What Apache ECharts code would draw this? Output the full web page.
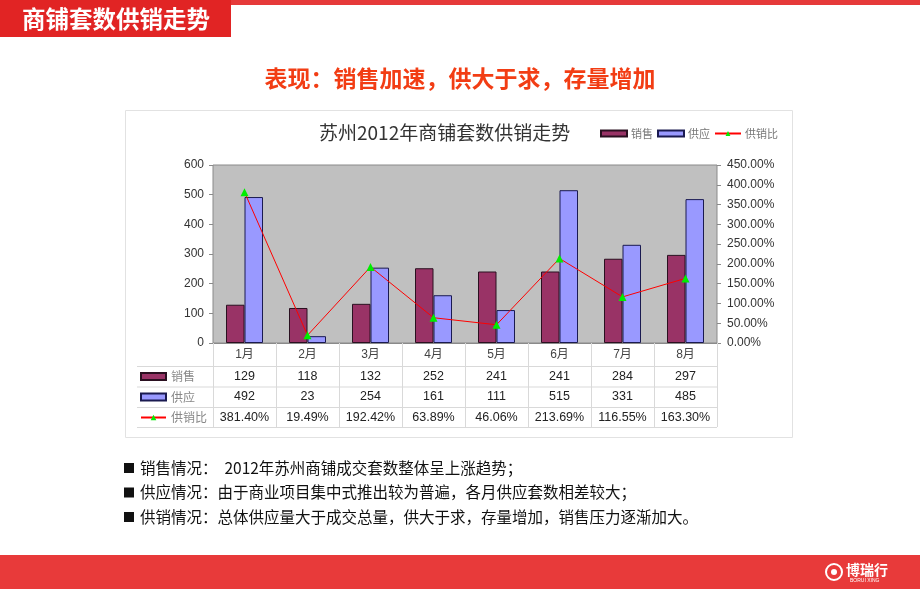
<!DOCTYPE html>
<html><head><meta charset="utf-8">
<script src="https://cdn.jsdelivr.net/npm/echarts@6/dist/echarts.min.js"></script>
<style>html,body{margin:0;padding:0;background:#fff}#c{width:920px;height:589px}</style>
</head><body><div id="c"></div>
<script>
const months = ['1月','2月','3月','4月','5月','6月','7月','8月'];
const sales = [129,118,132,252,241,241,284,297];
const supply = [492,23,254,161,111,515,331,485];
const ratio = [381.40,19.49,192.42,63.89,46.06,213.69,116.55,163.30];
const leftTicks = {min:0,max:600,interval:100};
const rightTicks = {min:0,max:450,interval:50};
const seriesNames = ['销售','供应','供销比'];
const pageTitle = '商铺套数供销走势';
const headline = '表现：销售加速，供大于求，存量增加';
const chartTitle = '苏州2012年商铺套数供销走势';
const bullets = [
  '销售情况：  2012年苏州商铺成交套数整体呈上涨趋势；',
  '供应情况：由于商业项目集中式推出较为普遍，各月供应套数相差较大；',
  '供销情况：总体供应量大于成交总量，供大于求，存量增加，销售压力逐渐加大。'
];

const FONT = '"Liberation Sans","Noto Sans CJK SC",sans-serif';
const CJK = '"Noto Sans CJK SC","Liberation Sans",sans-serif';
const chart = echarts.init(document.getElementById('c'));

const gL = 213, gR = 717, gT = 165, gB = 343;
function txt(text, x, y, size, color, weight, align, family){
  return {type:'text', silent:true, style:{text, x, y, fill:color,
    font:(weight||'normal')+' '+size+'px '+(family||CJK),
    textAlign:align||'left', textVerticalAlign:'middle', align:align||'left', verticalAlign:'middle'}};
}
const graphics = [
  {type:'rect', shape:{x:0,y:0,width:920,height:5}, style:{fill:'#e63a3a'}, silent:true},
  {type:'rect', shape:{x:0,y:0,width:231,height:37}, style:{fill:'#e12424'}, silent:true},
  txt(pageTitle, 22, 19, 23.5, '#ffffff', 'bold'),
  txt(headline, 460, 78, 23, '#f23d14', 'bold', 'center'),
  {type:'rect', shape:{x:125.5,y:110.5,width:667,height:327}, style:{fill:'none', stroke:'#e2e2e2', lineWidth:1}, silent:true, z:-1},
  {type:'rect', shape:{x:0,y:555,width:920,height:34}, style:{fill:'#e83a3a'}, silent:true},
  {type:'circle', shape:{cx:834,cy:572,r:8}, style:{fill:'none', stroke:'#fff', lineWidth:2}, silent:true},
  {type:'circle', shape:{cx:834,cy:572,r:3}, style:{fill:'#fff'}, silent:true},
  txt('博瑞行', 846, 570, 14, '#ffffff', 'bold'),
  txt('BORUI XING', 850, 581, 5, '#ffffff', 'normal', 'left', FONT)
];
[366, 386.5, 407, 427].forEach(y => {
  graphics.push({type:'line', silent:true, shape:{x1:137,y1:y+0.5,x2:gR,y2:y+0.5}, style:{stroke:'#d9d9d9', lineWidth:1}});
});
const bulletY = [468, 492.5, 517];
bullets.forEach((b,i) => {
  graphics.push({type:'rect', silent:true, shape:{x:124,y:bulletY[i]-5,width:10,height:10}, style:{fill:'#111'}});
  graphics.push(txt(b, 140, bulletY[i], 15.5, '#111', 'normal'));
});
const legendData = [{name:seriesNames[0], icon:'rect'}, {name:seriesNames[1], icon:'rect'}, seriesNames[2]];

const option = {
  animation:false,
  backgroundColor:'#fff',
  textStyle:{fontFamily:FONT},
  title:{text:chartTitle, left:319, top:123, padding:0,
    textStyle:{fontFamily:CJK, fontSize:19, fontWeight:'normal', color:'#333'}},
  legend:[
    {left:600, top:128, padding:0, itemWidth:26, itemHeight:6, itemGap:4, selectedMode:false,
     data:legendData, textStyle:{fontFamily:CJK, fontSize:11, color:'#777', padding:[0,0,0,-1]}},
    {left:140, top:370.5, orient:'vertical', padding:0, itemWidth:25, itemHeight:7, itemGap:8.5, selectedMode:false,
     data:legendData, textStyle:{fontFamily:CJK, fontSize:12, color:'#888'}}
  ],
  grid:{left:gL, right:920-gR, top:gT, bottom:589-gB, show:true, backgroundColor:'#c0c0c0', borderColor:'#8a8a8a', borderWidth:1},
  xAxis:{type:'category', data:months, boundaryGap:true,
    axisLine:{show:true, lineStyle:{color:'#8a8a8a'}},
    axisTick:{show:true, length:84, lineStyle:{color:'#d9d9d9'}},
    axisLabel:{margin:0, interval:0,
      formatter:(v, i) => '{m|'+v+'}\n{v|'+sales[i]+'}\n{v|'+supply[i]+'}\n{v|'+ratio[i].toFixed(2)+'%}',
      rich:{m:{fontSize:12, color:'#444', lineHeight:23, fontFamily:FONT},
            v:{fontSize:12.5, color:'#222', lineHeight:20.5, fontFamily:FONT}}}
  },
  yAxis:[
    {type:'value', min:leftTicks.min, max:leftTicks.max, interval:leftTicks.interval,
     axisLine:{show:false}, axisTick:{show:true, length:4, lineStyle:{color:'#8a8a8a'}},
     splitLine:{show:false},
     axisLabel:{margin:9, fontSize:12, color:'#333', fontFamily:FONT}},
    {type:'value', min:rightTicks.min, max:rightTicks.max, interval:rightTicks.interval, position:'right',
     axisLine:{show:false}, axisTick:{show:true, length:4, lineStyle:{color:'#8a8a8a'}},
     splitLine:{show:false},
     axisLabel:{margin:10, fontSize:12, color:'#333', fontFamily:FONT, formatter:v => v.toFixed(2)+'%'}}
  ],
  series:[
    {name:seriesNames[0], type:'bar', data:sales, barWidth:18.5, barGap:'0%',
     itemStyle:{color:'#993366', borderColor:'#2a1020', borderWidth:1}},
    {name:seriesNames[1], type:'bar', data:supply, barWidth:18.5, barGap:'0%',
     itemStyle:{color:'#9999ff', borderColor:'#1a1a50', borderWidth:1}},
    {name:seriesNames[2], type:'line', yAxisIndex:1, data:ratio, symbol:'triangle', symbolSize:8,
     lineStyle:{color:'#ff0000', width:1}, itemStyle:{color:'#00ee00'}, z:5}
  ],
  graphic:{elements:graphics}
};
chart.setOption(option);
</script></body></html>
